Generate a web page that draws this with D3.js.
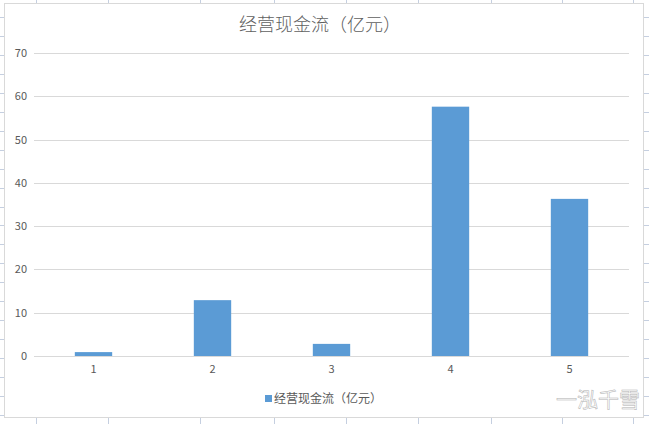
<!DOCTYPE html>
<html><head><meta charset="utf-8">
<script src="https://cdn.jsdelivr.net/npm/d3@7/dist/d3.min.js"></script>
<style>html,body{margin:0;padding:0;background:#fff;}svg{display:block;}</style>
</head><body>
<svg id="c" width="649" height="424"></svg>
<script>
const categories = ["1","2","3","4","5"];
const values = [0.9, 12.9, 2.8, 57.6, 36.3];
const yTicks = [0,10,20,30,40,50,60,70];
const title = "经营现金流（亿元）";
const seriesName = "经营现金流（亿元）";
const watermark = "一泓千雪";

(function(){
const svg = d3.select("#c");
const W = 649, H = 424;
const font = "'Noto Sans CJK SC','Microsoft YaHei',sans-serif";

// spreadsheet cell grid behind the chart
const colXs = [36,108,200,274,346,418,491,562,633];
const rowYs = d3.range(0,22).map(i => 17 + i*18.95);
const bg = svg.append("g").attr("stroke","#c5cfe0").attr("stroke-width",1);
colXs.forEach(x => { bg.append("line").attr("x1",x+0.5).attr("x2",x+0.5).attr("y1",0).attr("y2",H); });
rowYs.forEach(y => { bg.append("line").attr("x1",0).attr("x2",W).attr("y1",Math.round(y)+0.5).attr("y2",Math.round(y)+0.5); });

// chart area
svg.append("rect").attr("x",4.5).attr("y",3.5).attr("width",639).attr("height",414)
  .attr("fill","#fff").attr("stroke","#d9d9d9").attr("stroke-width",1);

const pLeft = 34, pRight = 629, pTop = 53, pBottom = 356;
const x = d3.scaleBand().domain(categories).range([pLeft,pRight]).paddingInner(0.686).paddingOuter(0.343);
const y = d3.scaleLinear().domain([0,70]).range([pBottom,pTop]);

// gridlines
svg.append("g").selectAll("line").data(yTicks).join("line")
  .attr("x1",pLeft).attr("x2",pRight)
  .attr("y1",d=>Math.round(y(d))+0.5).attr("y2",d=>Math.round(y(d))+0.5)
  .attr("stroke","#d9d9d9").attr("stroke-width",1);

// y axis labels
const yAxis = d3.axisLeft(y).tickValues(yTicks).tickSize(0).tickPadding(0);
const ya = svg.append("g").attr("transform",`translate(${pLeft-7},0)`).call(yAxis);
ya.select(".domain").remove();
ya.selectAll("text").attr("fill","#595959").attr("font-size","11px").attr("font-family",font);

// bars
svg.append("g").selectAll("rect").data(values).join("rect")
  .attr("x",(d,i)=>x(categories[i])).attr("width",x.bandwidth())
  .attr("y",d=>y(d)).attr("height",d=>y(0)-y(d))
  .attr("fill","#5b9bd5");

// x axis labels
const xAxis = d3.axisBottom(x).tickSize(0).tickPadding(0);
const xa = svg.append("g").attr("transform",`translate(0,${pBottom+9})`).call(xAxis);
xa.select(".domain").remove();
xa.selectAll("text").attr("fill","#595959").attr("font-size","11px").attr("font-family",font);

// title
svg.append("text").attr("x",320).attr("y",31).attr("text-anchor","middle")
  .attr("fill","#5f5f5f").attr("font-size","18px").attr("font-weight",300).attr("font-family",font).text(title);

// legend
svg.append("rect").attr("x",265).attr("y",395).attr("width",7).attr("height",7).attr("fill","#5b9bd5");
svg.append("text").attr("x",274).attr("y",403).attr("fill","#595959")
  .attr("font-size","12px").attr("font-family",font).text(seriesName);

// watermark
svg.append("text").attr("x",640).attr("y",407).attr("text-anchor","end")
  .attr("fill","#ffffff").attr("stroke","#b0b0b0").attr("stroke-width",0.5)
  .attr("font-size","21px").attr("font-family",font).text(watermark);
})();
</script>
</body></html>
